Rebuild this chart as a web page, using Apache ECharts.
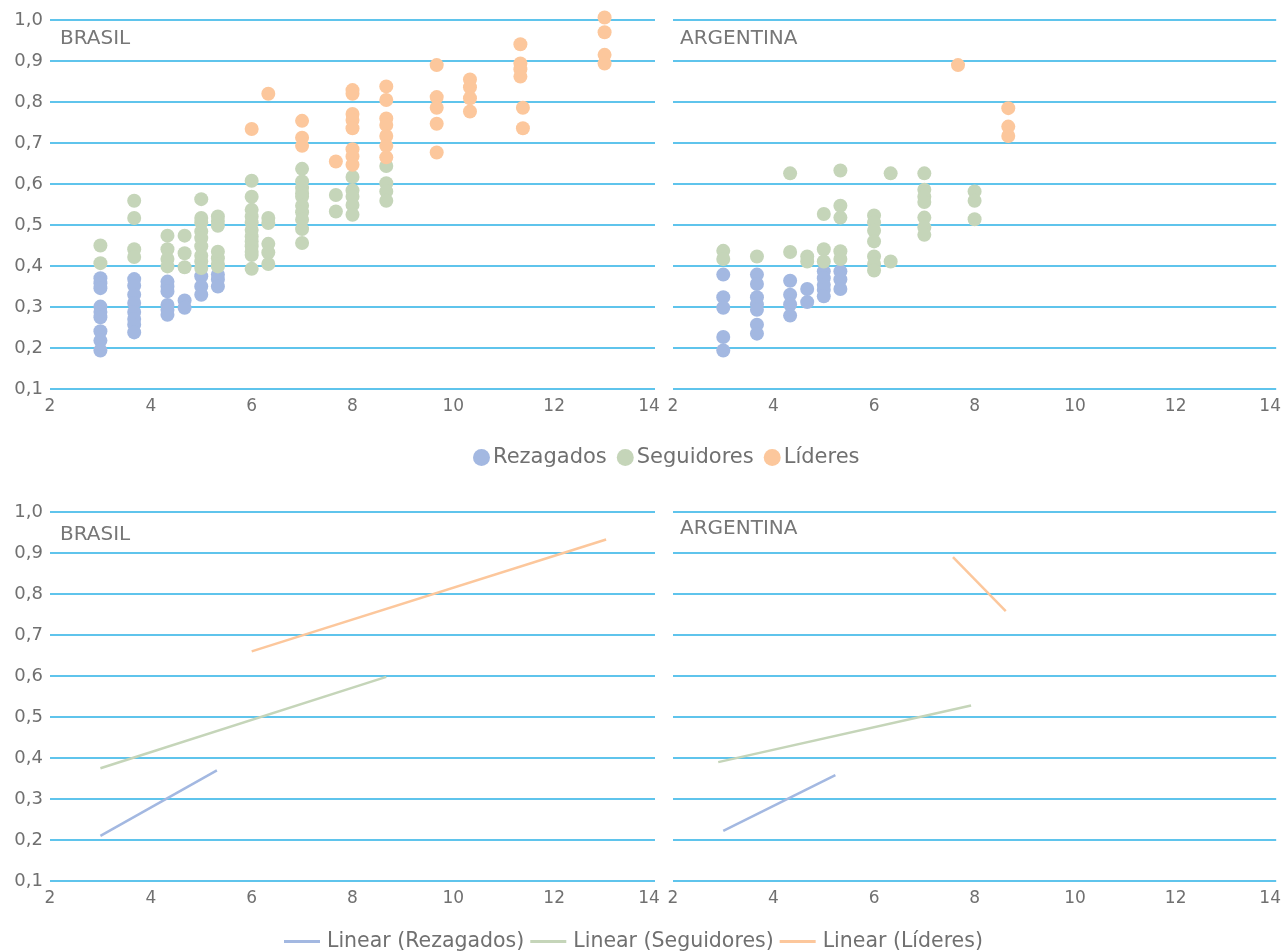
<!DOCTYPE html>
<html>
<head>
<meta charset="utf-8">
<script src="https://cdn.jsdelivr.net/npm/echarts@6/dist/echarts.min.js"></script>
<style>html,body{margin:0;padding:0;background:#fff}#c{width:1284px;height:951px}</style>
</head>
<body>
<div id="c"></div>
<script>
// ---------- DATA ----------
const seriesNames = ['Rezagados', 'Seguidores', 'Líderes'];
const trendNames = ['Linear (Rezagados)', 'Linear (Seguidores)', 'Linear (Líderes)'];
const panelTitles = ['BRASIL', 'ARGENTINA'];
const xTicks = [2, 4, 6, 8, 10, 12, 14];
const yTicks = [0.1, 0.2, 0.3, 0.4, 0.5, 0.6, 0.7, 0.8, 0.9, 1.0];

const brasilRezagados = [
  [3,0.370],[3,0.358],[3,0.346],[3,0.301],[3,0.288],[3,0.275],[3,0.241],[3,0.218],[3,0.194],
  [3.67,0.368],[3.67,0.352],[3.67,0.330],[3.67,0.310],[3.67,0.288],[3.67,0.271],[3.67,0.257],[3.67,0.238],
  [4.33,0.362],[4.33,0.350],[4.33,0.338],[4.33,0.305],[4.33,0.293],[4.33,0.281],
  [4.67,0.316],[4.67,0.298],
  [5,0.375],[5,0.350],[5,0.330],
  [5.33,0.379],[5.33,0.367],[5.33,0.350]
];
const brasilSeguidores = [
  [3,0.450],[3,0.407],
  [3.67,0.559],[3.67,0.517],[3.67,0.441],[3.67,0.422],
  [4.33,0.474],[4.33,0.441],[4.33,0.417],[4.33,0.399],
  [4.67,0.474],[4.67,0.431],[4.67,0.397],
  [5,0.563],[5,0.517],[5,0.506],[5,0.484],[5,0.468],[5,0.448],[5,0.425],[5,0.411],[5,0.395],
  [5.33,0.521],[5.33,0.510],[5.33,0.498],[5.33,0.435],[5.33,0.419],[5.33,0.405],[5.33,0.399],
  [6,0.608],[6,0.569],[6,0.537],[6,0.521],[6,0.506],[6,0.488],[6,0.472],[6,0.460],[6,0.448],[6,0.435],[6,0.427],[6,0.393],
  [6.33,0.517],[6.33,0.505],[6.33,0.454],[6.33,0.433],[6.33,0.405],
  [7,0.637],[7,0.606],[7,0.590],[7,0.577],[7,0.569],[7,0.547],[7,0.531],[7,0.513],[7,0.490],[7,0.456],
  [7.67,0.573],[7.67,0.533],
  [8,0.617],[8,0.584],[8,0.569],[8,0.549],[8,0.525],
  [8.67,0.644],[8.67,0.602],[8.67,0.582],[8.67,0.559]
];
const brasilLideres = [
  [6,0.734],[6.33,0.820],
  [7,0.754],[7,0.713],[7,0.693],
  [7.67,0.655],
  [8,0.829],[8,0.820],[8,0.771],[8,0.756],[8,0.736],[8,0.685],[8,0.667],[8,0.647],
  [8.67,0.838],[8.67,0.805],[8.67,0.760],[8.67,0.744],[8.67,0.717],[8.67,0.693],[8.67,0.665],
  [9.67,0.890],[9.67,0.812],[9.67,0.786],[9.67,0.747],[9.67,0.677],
  [10.33,0.855],[10.33,0.836],[10.33,0.809],[10.33,0.777],
  [11.33,0.941],[11.33,0.894],[11.33,0.880],[11.33,0.862],[11.38,0.786],[11.38,0.736],
  [13,1.006],[13,0.970],[13,0.915],[13,0.894]
];
const argentinaRezagados = [
  [3,0.379],[3,0.324],[3,0.298],[3,0.227],[3,0.194],
  [3.67,0.379],[3.67,0.356],[3.67,0.324],[3.67,0.306],[3.67,0.293],[3.67,0.257],[3.67,0.235],
  [4.33,0.364],[4.33,0.330],[4.33,0.306],[4.33,0.279],
  [4.67,0.344],[4.67,0.312],
  [5,0.387],[5,0.370],[5,0.354],[5,0.342],[5,0.326],
  [5.33,0.387],[5.33,0.367],[5.33,0.344]
];
const argentinaSeguidores = [
  [3,0.437],[3,0.417],
  [3.67,0.423],
  [4.33,0.626],[4.33,0.434],
  [4.67,0.423],[4.67,0.411],
  [5,0.527],[5,0.441],[5,0.411],
  [5.33,0.633],[5.33,0.547],[5.33,0.518],[5.33,0.436],[5.33,0.417],
  [6,0.523],[6,0.506],[6,0.486],[6,0.460],[6,0.423],[6,0.405],[6,0.389],
  [6.33,0.626],[6.33,0.411],
  [7,0.626],[7,0.586],[7,0.569],[7,0.556],[7,0.518],[7,0.494],[7,0.476],
  [8,0.582],[8,0.559],[8,0.514]
];
const argentinaLideres = [
  [7.67,0.890],
  [8.67,0.785],[8.67,0.740],[8.67,0.717]
];
// trend line endpoints
const brasilTrendRez = [[3,0.210],[5.31,0.370]];
const brasilTrendSeg = [[3,0.375],[8.67,0.598]];
const brasilTrendLid = [[6,0.660],[13.03,0.933]];
const argentinaTrendRez = [[3,0.222],[5.23,0.358]];
const argentinaTrendSeg = [[2.9,0.390],[7.93,0.528]];
const argentinaTrendLid = [[7.57,0.890],[8.62,0.758]];

// ---------- STYLE ----------
const colors = ['#a3b8e1', '#c5d5b9', '#fcc79c'];
const gridColor = '#2ab0e6';
const textColor = '#707070';
const fontFamily = 'DejaVu Sans, sans-serif';

const grids = [
  {left: 50, top: 20, width: 605, height: 369},
  {left: 673, top: 20, width: 605, height: 369},
  {left: 50, top: 512, width: 605, height: 369},
  {left: 673, top: 512, width: 605, height: 369}
];

function xAxis(i) {
  return {
    type: 'value', gridIndex: i, min: 2, max: 14, interval: 2,
    axisLine: {show: false}, axisTick: {show: false}, splitLine: {show: false},
    axisLabel: {
      color: textColor, fontSize: 17, fontFamily, margin: 9,
      formatter: v => (v === 14 ? '{e|14}' : String(v)),
      rich: {e: {color: textColor, fontSize: 17, fontFamily, padding: [0, 12, 0, 0]}}
    }
  };
}
function yAxis(i, showLabels) {
  return {
    type: 'value', gridIndex: i, min: 0.1, max: 1.0, interval: 0.1,
    axisLine: {show: false}, axisTick: {show: false},
    splitLine: {show: true, lineStyle: {color: gridColor, width: 1.5}},
    axisLabel: {
      show: showLabels, color: textColor, fontSize: 18, fontFamily, margin: 7,
      formatter: v => v.toFixed(1).replace('.', ',')
    }
  };
}

const scatterData = [
  [brasilRezagados, brasilSeguidores, brasilLideres],
  [argentinaRezagados, argentinaSeguidores, argentinaLideres]
];
const trendData = [
  [brasilTrendRez, brasilTrendSeg, brasilTrendLid],
  [argentinaTrendRez, argentinaTrendSeg, argentinaTrendLid]
];

const series = [];
for (let p = 0; p < 2; p++) {
  for (let k = 0; k < 3; k++) {
    series.push({
      type: 'scatter', name: seriesNames[k], xAxisIndex: p, yAxisIndex: p,
      data: scatterData[p][k], symbolSize: 14, itemStyle: {color: colors[k], opacity: 1},
      clip: false, silent: true
    });
  }
}
for (let p = 0; p < 2; p++) {
  for (let k = 0; k < 3; k++) {
    series.push({
      type: 'line', name: trendNames[k], xAxisIndex: p + 2, yAxisIndex: p + 2,
      data: trendData[p][k], symbol: 'none', lineStyle: {color: colors[k], width: 2.5},
      itemStyle: {color: colors[k]}, silent: true
    });
  }
}

const titleStyle = {color: '#777', fontSize: 20, fontWeight: 'normal', fontFamily};

const option = {
  backgroundColor: '#fff',
  animation: false,
  grid: grids,
  xAxis: [xAxis(0), xAxis(1), xAxis(2), xAxis(3)],
  yAxis: [yAxis(0, true), yAxis(1, false), yAxis(2, true), yAxis(3, false)],
  title: [
    {text: panelTitles[0], left: 55, top: 24, textStyle: titleStyle},
    {text: panelTitles[1], left: 675, top: 24, textStyle: titleStyle},
    {text: panelTitles[0], left: 55, top: 520, textStyle: titleStyle},
    {text: panelTitles[1], left: 675, top: 514, textStyle: titleStyle}
  ],
  legend: [
    {
      data: seriesNames, top: 442, left: 468, icon: 'circle',
      itemWidth: 17, itemHeight: 17, itemGap: 10,
      textStyle: {color: textColor, fontSize: 21, fontFamily, padding: [0, 0, 0, -2]}
    },
    {
      data: trendNames, top: 926, left: 279, icon: 'rect',
      itemWidth: 36, itemHeight: 3, itemGap: 6,
      textStyle: {color: textColor, fontSize: 20.5, fontFamily, padding: [0, 0, 0, 2]}
    }
  ],
  series
};

const chart = echarts.init(document.getElementById('c'), null, {renderer: 'canvas'});
chart.setOption(option);
</script>
</body>
</html>
